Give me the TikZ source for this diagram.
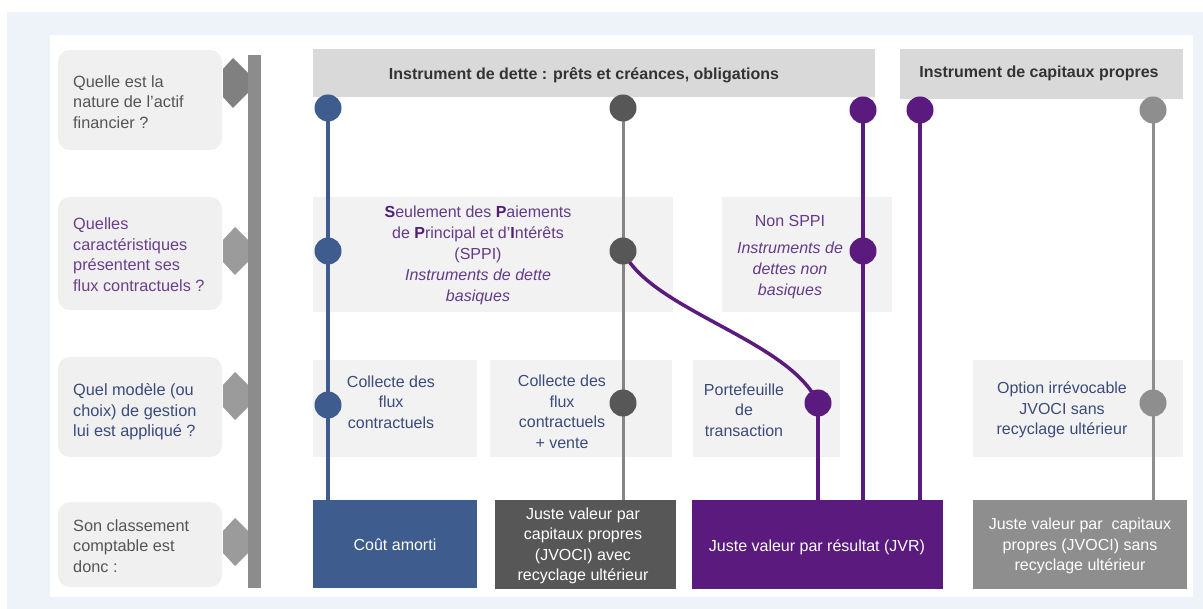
\documentclass[tikz,border=0pt]{standalone}
\usepackage{fontspec}
\setmainfont{Liberation Sans}
\pgfdeclarelayer{boxes}
\pgfdeclarelayer{lines}
\pgfsetlayers{boxes,lines,main}
\definecolor{bgblue}{HTML}{EEF2F9}
\definecolor{qfill}{HTML}{F0F0F0}
\definecolor{diagA}{HTML}{808080}
\definecolor{diagB}{HTML}{9B9B9B}
\definecolor{barcol}{HTML}{8C8C8C}
\definecolor{hdrfill}{HTML}{D9D9D9}
\definecolor{rowfill}{HTML}{F2F2F2}
\definecolor{cblue}{HTML}{3E5C8E}
\definecolor{cdark}{HTML}{575757}
\definecolor{cdarkline}{HTML}{858585}
\definecolor{cpurple}{HTML}{5A1A7E}
\definecolor{cgrey}{HTML}{8E8E8E}
\definecolor{txtgrey}{HTML}{555555}
\definecolor{txtpurple}{HTML}{6A3F8C}
\definecolor{txtblue}{HTML}{3B4B7B}
\definecolor{hdrtxt}{HTML}{333333}
\definecolor{sppitxt}{HTML}{643A8A}
\definecolor{sppibold}{HTML}{4E1F75}
\begin{document}
\begin{tikzpicture}[x=1pt,y=-1pt,
  qbox/.style={fill=qfill, rounded corners=12pt, inner sep=0pt},
  rbox/.style={fill=rowfill, inner sep=0pt},
  hbox/.style={fill=hdrfill, inner sep=0pt},
  fbox/.style={inner sep=0pt},
  dot/.style={circle, minimum size=27pt, inner sep=0pt},
  txt/.style={inner sep=0pt, align=center, font=\fontsize{16}{20.5}\selectfont},
  qtxt/.style={txt, align=left, anchor=west, font=\fontsize{16.3}{20.5}\selectfont},
  hdr/.style={inner sep=0pt, text=hdrtxt, font=\fontsize{16}{20}\selectfont\bfseries},
  link/.style={line width=3.5pt},
  glink/.style={line width=3pt}
]
\useasboundingbox (0,0) rectangle (1203,609);

\begin{pgfonlayer}{boxes}
% backgrounds
\fill[bgblue] (7,12) rectangle (1203,609);
\fill[white] (50,35) rectangle (1193,597);

% question boxes
\node[qbox, minimum width=164pt, minimum height=100pt] (q1) at (140,100) {};
\node[qbox, minimum width=164pt, minimum height=113pt] (q2) at (140,253.5) {};
\node[qbox, minimum width=164pt, minimum height=100pt] (q3) at (140,407) {};
\node[qbox, minimum width=164pt, minimum height=85pt] (q4) at (140,544.5) {};

% diamonds
\fill[diagA] (223,69) -- (233,58) -- (258,83) -- (233,108) -- (223,97) -- cycle;
\fill[diagB] (223,240) -- (235,227) -- (259,251) -- (235,275) -- (223,262) -- cycle;
\fill[diagB] (223,385) -- (235,372) -- (259,396) -- (235,420) -- (223,407) -- cycle;
\fill[diagB] (223,531) -- (235,518) -- (259,542) -- (235,566) -- (223,553) -- cycle;
% vertical bar
\fill[barcol] (248,55) rectangle (261,588);

% headers
\node[hbox, minimum width=562pt, minimum height=48pt] (h1) at (594,73) {};
\node[hbox, minimum width=283pt, minimum height=50pt] (h2) at (1041.5,74) {};

% row 2 boxes
\node[rbox, minimum width=360pt, minimum height=115pt] (sppi) at (493,254.5) {};
\node[rbox, minimum width=170pt, minimum height=115pt] (nsppi) at (807,254.5) {};

% row 3 boxes
\node[rbox, minimum width=164pt, minimum height=97pt] (r1) at (395,408.5) {};
\node[rbox, minimum width=182pt, minimum height=97pt] (r2) at (581,408.5) {};
\node[rbox, minimum width=147pt, minimum height=97pt] (r3) at (766.5,408.5) {};
\node[rbox, minimum width=210pt, minimum height=97pt] (r4) at (1078,408.5) {};

% row 4 result boxes
\node[fbox, fill=cblue, minimum width=164pt, minimum height=88pt] (f1) at (395,544) {};
\node[fbox, fill=cdark, minimum width=181pt, minimum height=89pt] (f2) at (585.5,544.5) {};
\node[fbox, fill=cpurple, minimum width=251pt, minimum height=89pt] (f3) at (817.5,544.5) {};
\node[fbox, fill=cgrey, minimum width=214pt, minimum height=89pt] (f4) at (1080,544.5) {};
\end{pgfonlayer}

% texts
\node[qtxt, text=txtgrey] (qt1) at (73,102) {Quelle est la\\nature de l’actif\\financier ?};
\node[qtxt, text=txtpurple] (qt2) at (73,254.5) {Quelles\\caractéristiques\\présentent ses\\flux contractuels ?};
\node[qtxt, text=txtblue] (qt3) at (73,412) {Quel modèle (ou\\choix) de gestion\\lui est appliqué ?};
\node[qtxt, text=txtgrey] (qt4) at (73,546) {Son classement\\comptable est\\donc :};

\node[hdr] (ht1) at (584,75) {Instrument de dette : prêts et créances, obligations};
\node[hdr] (ht2) at (1039,73) {Instrument de capitaux propres};

\node[txt, text=sppitxt, font=\fontsize{16}{21}\selectfont] (st) at (478,255)
  {\textcolor{sppibold}{\textbf{S}}eulement des \textcolor{sppibold}{\textbf{P}}aiements\\de \textcolor{sppibold}{\textbf{P}}rincipal et d’\textcolor{sppibold}{\textbf{I}}ntérêts\\(SPPI)\\\textit{Instruments de dette}\\\textit{basiques}};
\node[txt, text=sppitxt, font=\fontsize{16}{21}\selectfont] (nt) at (790,257)
  {Non SPPI\\[6pt]\textit{Instruments de}\\\textit{dettes non}\\\textit{basiques}};

\node[txt, text=txtblue] (rt1) at (391,402) {Collecte des\\flux\\contractuels};
\node[txt, text=txtblue] (rt2) at (562,412) {Collecte des\\flux\\contractuels\\+ vente};
\node[txt, text=txtblue] (rt3) at (744,410) {Portefeuille\\de\\transaction};
\node[txt, text=txtblue] (rt4) at (1062,410) {Option irrévocable\\JVOCI sans\\recyclage ultérieur};

\node[txt, text=white] (ft1) at (395,545) {Coût amorti};
\node[txt, text=white] (ft2) at (583,546) {Juste valeur par\\capitaux propres\\(JVOCI) avec\\recyclage ultérieur};
\node[txt, text=white] (ft3) at (817,547) {Juste valeur par résultat (JVR)};
\node[txt, text=white] (ft4) at (1080,546) {Juste valeur par\ \ capitaux\\propres (JVOCI) sans\\recyclage ultérieur};

% circles
\node[dot, fill=cblue] (b1) at (328,108) {};
\node[dot, fill=cblue] (b2) at (328,251) {};
\node[dot, fill=cblue] (b3) at (328,405) {};
\node[dot, fill=cdark] (d1) at (623,108) {};
\node[dot, fill=cdark] (d2) at (623,251) {};
\node[dot, fill=cdark] (d3) at (623,403) {};
\node[dot, fill=cpurple] (p1) at (863,110) {};
\node[dot, fill=cpurple] (p2) at (863,251) {};
\node[dot, fill=cpurple] (p3) at (920,110) {};
\node[dot, fill=cpurple] (p4) at (818,403) {};
\node[dot, fill=cgrey] (g1) at (1153,110) {};
\node[dot, fill=cgrey] (g2) at (1153,403) {};

% connectors
\begin{pgfonlayer}{lines}
\draw[link, cblue] (b1.center) -- (b2.center) -- (b3.center) -- (b3.center |- f1.north);
\draw[glink, cdarkline] (d1.center) -- (d2.center) -- (d3.center) -- (d3.center |- f2.north);
\draw[link, cpurple] (p1.center) -- (p2.center) -- (p2.center |- f3.north);
\draw[link, cpurple] (p3.center) -- (p3.center |- f3.north);
\draw[link, cpurple] (d2.center) .. controls (650,310) and (790,340) .. (p4.center);
\draw[link, cpurple] (p4.center) -- (p4.center |- f3.north);
\draw[glink, cgrey] (g1.center) -- (g2.center) -- (g2.center |- f4.north);
\end{pgfonlayer}
\end{tikzpicture}
\end{document}
